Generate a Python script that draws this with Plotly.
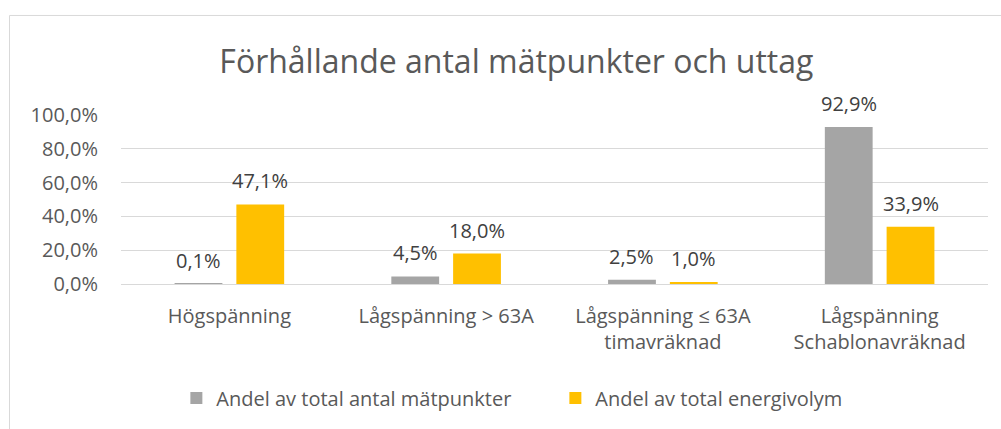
import plotly.graph_objects as go

categories = ["Högspänning", "Lågspänning > 63A", "Lågspänning ≤ 63A<br>timavräknad", "Lågspänning<br>Schablonavräknad"]
series_names = ["Andel av total antal mätpunkter", "Andel av total energivolym"]
matpunkter = [0.001, 0.045, 0.025, 0.929]
energivolym = [0.471, 0.180, 0.010, 0.339]
tick_vals = [0, 0.2, 0.4, 0.6, 0.8, 1.0]

FONT = "Open Sans"
TXT = "#595959"
SZ = 20

fig = go.Figure()
series = [(series_names[0], matpunkter, "#A5A5A5", -31), (series_names[1], energivolym, "#FFC000", 31)]
for name, vals, col, _ in series:
    fig.add_trace(go.Bar(
        x=categories, y=vals, name=name, marker=dict(color=col, line=dict(width=0)),
    ))

for name, vals, col, dx in series:
    for c, v in zip(categories, vals):
        fig.add_annotation(x=c, y=v, xref="x", yref="y", text=f"{v*100:.1f}%".replace(".", ","),
                           showarrow=False, xshift=dx, yanchor="bottom", yshift=8,
                           font=dict(family=FONT, size=SZ, color="#404040"))

fig.update_layout(
    width=1001, height=429,
    margin=dict(l=121, r=13, t=115, b=145),
    paper_bgcolor="white", plot_bgcolor="white",
    separators=", ",
    barmode="group", bargap=0.43, bargroupgap=0.226,
    title=dict(text="Förhållande antal mätpunkter och uttag", x=0.456, xref="paper", xanchor="center",
               y=0.855, yanchor="middle", font=dict(family=FONT, size=32, color=TXT)),
    font=dict(family=FONT, size=SZ, color=TXT),
    showlegend=True,
    legend=dict(orientation="h", x=0.501, xanchor="center", y=-0.675, yanchor="middle",
                font=dict(family=FONT, size=SZ, color=TXT), traceorder="normal",
                itemwidth=30, entrywidth=334, entrywidthmode="pixels"),
    xaxis=dict(showgrid=False, ticks="", showline=False, ticklabelstandoff=18,
               tickfont=dict(family=FONT, size=SZ, color=TXT)),
    yaxis=dict(range=[0, 1.0], tickvals=tick_vals, tickformat=".1%", showgrid=True, gridcolor="#D9D9D9",
               gridwidth=1, zeroline=True, zerolinecolor="#D9D9D9", zerolinewidth=1, showline=False,
               ticks="", tickfont=dict(family=FONT, size=SZ, color=TXT), ticklabelstandoff=22),
)

fig.add_shape(type="rect", xref="paper", yref="paper", x0=-0.1286, x1=1.05, y0=-1.0, y1=1.589,
              line=dict(color="#D9D9D9", width=1), fillcolor="rgba(0,0,0,0)", layer="below")

fig.write_html("out.html")
